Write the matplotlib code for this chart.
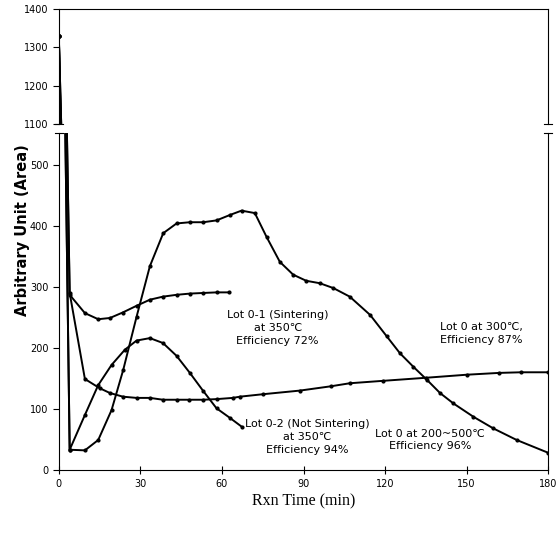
import numpy as np
import matplotlib.pyplot as plt

# data (time in min, value in arbitrary units)
t_sint = [0, 4, 9.6, 14.5, 18.8, 23.5, 28.6, 33.5, 38.3, 43.3, 48.2, 53, 58, 62.7]
v_sint = [1330, 287, 257, 247, 249, 258, 269, 279, 284, 287, 289, 290, 291, 291]

t_300 = [0, 4, 9.6, 15, 18.8, 23.6, 28.6, 33.5, 38.3, 43.3, 48, 53, 58, 64, 66.6,
         75, 88.7, 100, 107, 119.3, 135, 150, 162, 170, 180]
v_300 = [1330, 290, 149, 134, 126, 120, 118, 118, 115, 115, 115, 115, 116, 118, 120,
         124, 130, 137, 142, 146, 151, 156, 159, 160, 160]

t_ns = [0, 4, 9.6, 14.5, 19.4, 24.3, 28.6, 33.5, 38.3, 43.3, 48.2, 53, 58, 63, 67.2]
v_ns = [1330, 33, 90, 139, 172, 197, 212, 216, 208, 187, 159, 130, 101, 85, 71]

t_wide = [0, 4, 9.6, 14.5, 19.4, 23.7, 28.6, 33.5, 38.4, 43.3, 48.2, 53.1, 58, 63,
          67.2, 72.1, 76.4, 81.3, 86.2, 91, 96, 101, 107, 114.5, 120.6, 125.5,
          130.4, 135.3, 140.2, 145.1, 152.5, 159.8, 168.4, 180]
v_wide = [1330, 33, 32, 49, 98, 164, 251, 334, 388, 404, 406, 406, 409, 418,
          425, 421, 382, 341, 320, 310, 306, 298, 284, 254, 219, 191,
          169, 148, 126, 109, 87, 68, 49, 28]

series = [(t_sint, v_sint), (t_300, v_300), (t_ns, v_ns), (t_wide, v_wide)]

labels = [
    ("Lot 0-1 (Sintering)\nat 350\u2103\nEfficiency 72%", 80.5, 233),
    ("Lot 0-2 (Not Sintering)\nat 350\u2103\nEfficiency 94%", 91.5, 54),
    ("Lot 0 at 200~500\u2103\nEfficiency 96%", 136.5, 49),
    ("Lot 0 at 300\u2103,\nEfficiency 87%", 155.5, 223),
]

narrow = ['Liberation Sans Narrow', 'DejaVu Sans']

fig = plt.figure(figsize=(5.6, 5.37), dpi=100)
ax_top = fig.add_axes([0.105, 0.769, 0.874, 0.214])
ax = fig.add_axes([0.105, 0.125, 0.874, 0.627])

for a in (ax_top, ax):
    for t, v in series:
        a.plot(t, v, color='black', lw=1.4, marker='o', ms=2.0)
    a.set_xlim(0, 180)
    for s in a.spines.values():
        s.set_linewidth(0.8)

ax_top.set_ylim(1100, 1400)
ax_top.set_yticks([1100, 1200, 1300, 1400])
ax_top.spines['bottom'].set_visible(False)
ax_top.tick_params(axis='x', bottom=False, labelbottom=False)

ax.set_ylim(0, 552)
ax.set_yticks([0, 100, 200, 300, 400, 500])
ax.set_xticks([0, 30, 60, 90, 120, 150, 180])
ax.spines['top'].set_visible(False)
ax.tick_params(axis='x', direction='inout', length=6, width=0.8)

for a in (ax_top, ax):
    a.tick_params(axis='y', direction='out', length=4, width=0.8)
    for lab in a.get_xticklabels() + a.get_yticklabels():
        lab.set_family(narrow)
        lab.set_fontsize(7)

# break marks: small hooks at the ends of the split spines
kw = dict(transform=fig.transFigure, color='black', lw=0.8, clip_on=False)
for xf in (0.105, 0.979):
    fig.add_artist(plt.Line2D([xf - 0.007, xf + 0.007], [0.769, 0.769], **kw))
    fig.add_artist(plt.Line2D([xf - 0.007, xf + 0.007], [0.752, 0.752], **kw))

for txt, x, y in labels:
    ax.text(x, y, txt, ha='center', va='center', fontsize=8, family=narrow,
            linespacing=1.35)

ax.set_xlabel('Rxn Time (min)', family='Liberation Serif', fontsize=11.5, labelpad=3)
fig.text(0.04, 0.572, 'Arbitrary Unit (Area)', rotation=90, ha='center', va='center',
         fontsize=10.5, fontweight='bold', family='DejaVu Sans')

plt.savefig('out.png', dpi=100)
